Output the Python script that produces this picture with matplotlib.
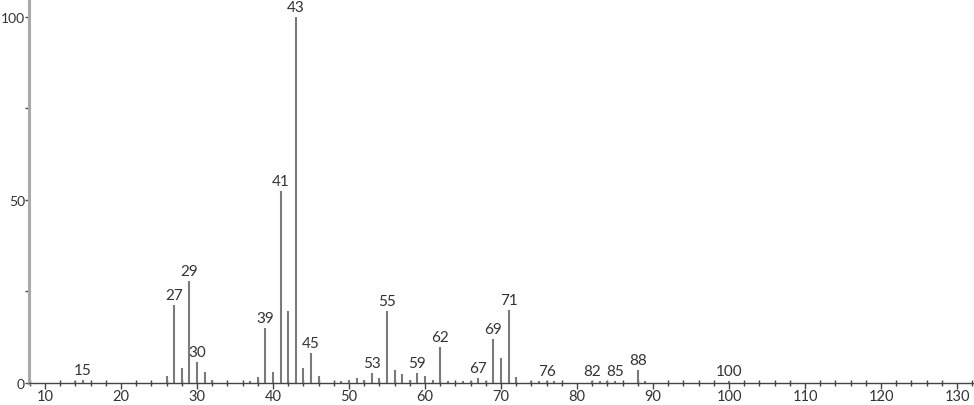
import matplotlib
matplotlib.use("Agg")
import matplotlib.pyplot as plt
from matplotlib.ticker import MultipleLocator

mz = [14, 15, 26, 27, 28, 29, 30, 31, 32, 37, 38, 39, 40, 41, 42, 43, 44, 45, 46,
      49, 50, 51, 52, 53, 54, 55, 56, 57, 58, 59, 60, 61, 62, 63, 65, 66, 67, 68,
      69, 70, 71, 72, 74, 75, 76, 77, 82, 83, 84, 85, 88, 89, 100]
intensity = [0.3, 0.8, 1.7, 21.1, 4.1, 27.8, 5.6, 3.0, 0.6, 0.5, 1.4, 14.8, 3.0, 52.3, 19.5, 100, 4.1, 8.1, 1.7,
             0.4, 0.8, 1.2, 0.7, 2.5, 1.3, 19.6, 3.3, 2.3, 0.7, 2.6, 1.7, 0.6, 9.7, 0.4, 0.3, 0.3, 1.2, 0.3,
             11.9, 6.6, 19.9, 1.4, 0.4, 0.3, 0.5, 0.3, 0.5, 0.3, 0.3, 0.4, 3.4, 0.4, 0.4]
labeled = [15, 27, 29, 30, 39, 41, 43, 45, 53, 55, 59, 62, 67, 69, 71, 76, 82, 85, 88, 100]

plt.rcParams['font.family'] = ['Lato', 'DejaVu Sans']

fig = plt.figure(figsize=(9.74, 4.06), dpi=100)
ax = fig.add_axes([0.0298, 0.0554, 0.970, 0.9446])

ax.vlines(mz, 0, intensity, colors='#7a7a7a', linewidth=1.5)
for m, v in zip(mz, intensity):
    if m in labeled:
        ax.text(m, v + 0.8, str(m), ha='center', va='bottom', fontsize=11, color='#333333')

ax.set_xlim(7.9, 132.2)
ax.set_ylim(0, 104.9)

for s in ['top', 'right']:
    ax.spines[s].set_visible(False)
ax.spines['left'].set_color('#aaaaaa')
ax.spines['left'].set_linewidth(2.2)
ax.spines['bottom'].set_color('#444444')
ax.spines['bottom'].set_linewidth(1.0)

ax.set_xticks(range(10, 131, 10))
ax.xaxis.set_minor_locator(MultipleLocator(2))
ax.set_yticks([0, 50, 100])
ax.yaxis.set_minor_locator(MultipleLocator(25))
ax.tick_params(axis='x', which='major', direction='out', length=4, width=1, color='#444444',
               labelsize=10.5, labelcolor='#333333', pad=0.5)
ax.tick_params(axis='x', which='minor', direction='inout', length=4, width=1, color='#444444')
ax.tick_params(axis='y', which='major', direction='out', length=3, width=1, color='#444444',
               labelsize=10, labelcolor='#333333', pad=0)
ax.tick_params(axis='y', which='minor', direction='out', length=3, width=1, color='#444444')

fig.savefig('out.png', dpi=100)
